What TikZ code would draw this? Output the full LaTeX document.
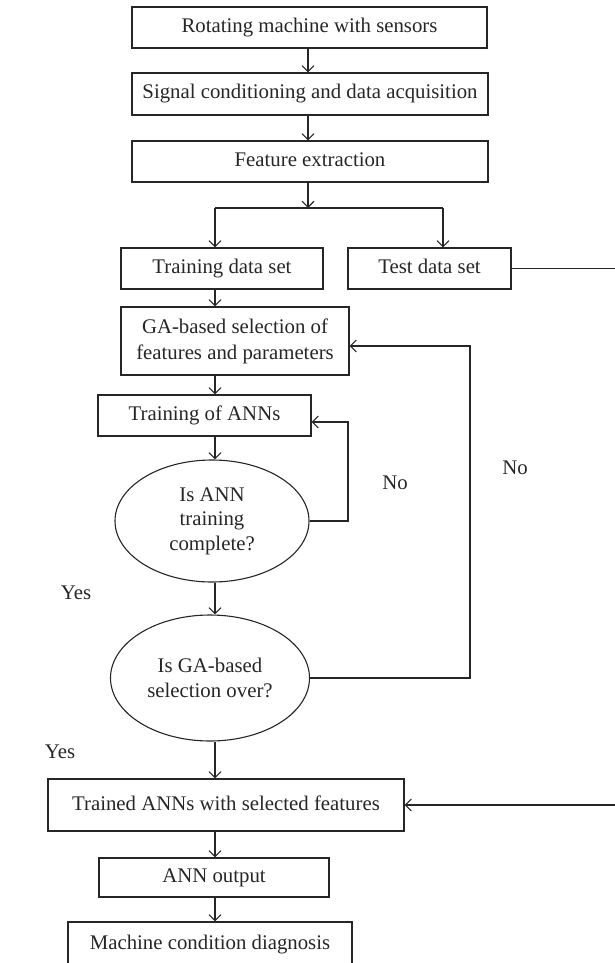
\documentclass[tikz,border=0pt]{standalone}
\usepackage{fontspec}
\setmainfont{Liberation Serif}
\usetikzlibrary{arrows.meta,shapes.geometric}
\definecolor{ink}{HTML}{262626}
\tikzset{
  box/.style={draw=ink,line width=1.1pt,rectangle,inner sep=0pt,align=center,text=ink,font=\fontsize{20.8}{26}\selectfont},
  one/.style={text height=14.5pt,text depth=4.5pt},
  oval/.style={draw=ink,line width=1.1pt,ellipse,inner sep=0pt,align=center,text=ink,font=\fontsize{20.8}{24.5}\selectfont},
  lbl/.style={text=ink,inner sep=0pt,font=\fontsize{20.8}{25}\selectfont},
  arr/.style={draw=ink,line width=1.1pt,-{Straight Barb[length=6pt,width=12pt,line width=1.1pt]}},
  ln/.style={draw=ink,line width=1.1pt}
}
\begin{document}
\begin{tikzpicture}[x=1pt,y=-1pt]
\useasboundingbox (0,0) rectangle (614,963);
\node[box,one,minimum width=355,minimum height=41] (b1) at (309.5,27.5) {Rotating machine with sensors};
\node[box,one,minimum width=356,minimum height=42] (b2) at (310,94) {Signal conditioning and data acquisition};
\node[box,one,minimum width=356,minimum height=41] (b3) at (310,161.5) {Feature extraction};
\node[box,one,minimum width=202,minimum height=41] (train) at (222,268.5) {Training data set};
\node[box,one,minimum width=163,minimum height=41] (test) at (429.5,268.5) {Test data set};
\node[box,minimum width=228,minimum height=68] (ga) at (235,341) {GA-based selection of\\features and parameters};
\node[box,one,minimum width=213,minimum height=41] (tann) at (204.5,415.5) {Training of ANNs};
\node[oval,minimum width=194,minimum height=122] (e1) at (212,521) {Is ANN\\training\\complete?};
\node[oval,minimum width=199,minimum height=126] (e2) at (210,678) {Is GA-based\\selection over?};
\node[box,one,minimum width=356,minimum height=52] (trained) at (226,805) {Trained ANNs with selected features};
\node[box,one,minimum width=230,minimum height=39] (out) at (214,877.5) {ANN output};
\node[box,one,minimum width=284,minimum height=44] (mcd) at (210,944) {Machine condition diagnosis};

\node[lbl] (no1) at (395,483) {No};
\node[lbl] (no2) at (515,468) {No};
\node[lbl] (yes1) at (76,593) {Yes};
\node[lbl] (yes2) at (60,752) {Yes};

\coordinate (col) at (215,0);
\coordinate (split) at (308,208);
\coordinate (sL) at (215,208);
\coordinate (sR) at (443,208);
\coordinate (rt) at (617,0);
\coordinate (gaL) at (470,346);
\coordinate (tL) at (348,422);

\draw[arr] (split |- b1.south) -- (split |- b2.north);
\draw[arr] (split |- b2.south) -- (split |- b3.north);
\draw[arr] (split |- b3.south) -- (split);
\draw[ln] (sL) -- (sR);
\draw[arr] (sL) -- (sL |- train.north);
\draw[arr] (sR) -- (sR |- test.north);
\draw[arr] (col |- train.south) -- (col |- ga.north);
\draw[arr] (col |- ga.south) -- (col |- tann.north);
\draw[arr] (col |- tann.south) -- (col |- e1.north);
\draw[arr] (col |- e1.south) -- (col |- e2.north);
\draw[arr] (col |- e2.south) -- (col |- trained.north);
\draw[arr] (col |- trained.south) -- (col |- out.north);
\draw[arr] (col |- out.south) -- (col |- mcd.north);
\draw[arr] (e1.east) -| (tL) -- (tL -| tann.east);
\draw[arr] (e2.east) -| (gaL) -- (gaL -| ga.east);
\draw[arr] (test.east) -- (rt |- test.east) -- (rt |- trained.east) -- (trained.east);
\end{tikzpicture}
\end{document}
